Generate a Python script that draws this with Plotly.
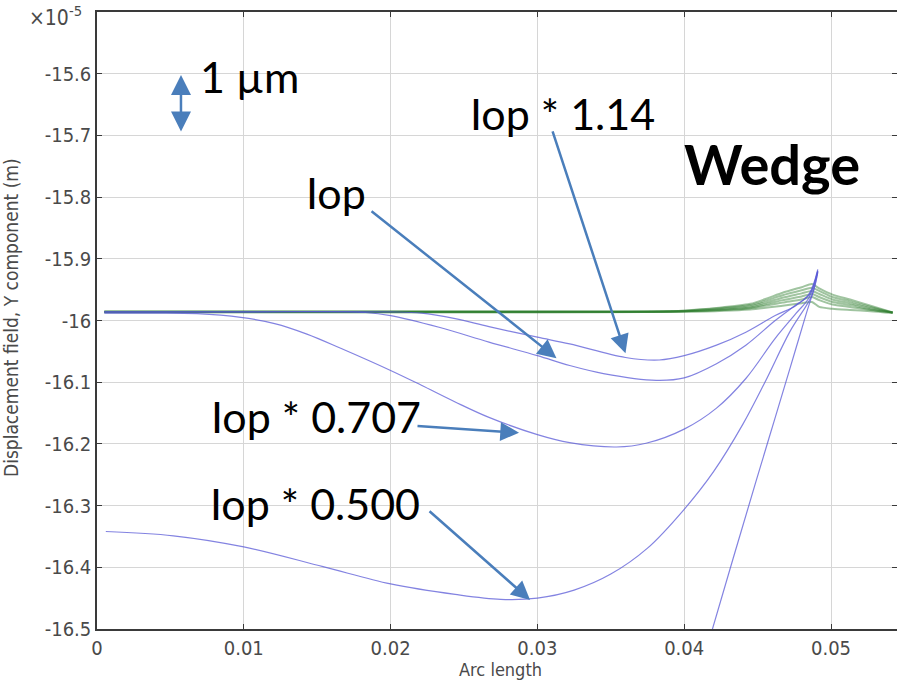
import plotly.graph_objects as go

# ---------------- data (values in units of 1e-5 m) ----------------
x_114 = [0.0005, 0.010, 0.020, 0.0221, 0.0244, 0.0267, 0.0300, 0.0322, 0.0360, 0.0383, 0.0400, 0.0422, 0.0442, 0.0462, 0.0476, 0.0485, 0.0491]
y_114 = [-15.986, -15.986, -15.986, -15.988, -15.997, -16.010, -16.027, -16.038, -16.060, -16.064, -16.057, -16.040, -16.019, -15.992, -15.976, -15.957, -15.917]

x_iop = [0.0005, 0.010, 0.0183, 0.0200, 0.0233, 0.0267, 0.0300, 0.0322, 0.0345, 0.0381, 0.0400, 0.0422, 0.0442, 0.0462, 0.0476, 0.0485, 0.0491]
y_iop = [-15.986, -15.986, -15.987, -15.992, -16.011, -16.035, -16.057, -16.073, -16.086, -16.097, -16.093, -16.070, -16.040, -16.000, -15.975, -15.959, -15.919]

x_0707 = [0.0005, 0.0040, 0.0068, 0.0098, 0.0121, 0.0143, 0.0166, 0.0200, 0.0221, 0.0244, 0.0267, 0.0300, 0.0322, 0.0354, 0.0374, 0.0400, 0.0422, 0.0442, 0.0462, 0.0476, 0.0485, 0.0491]
y_0707 = [-15.988, -15.988, -15.989, -15.995, -16.005, -16.022, -16.045, -16.081, -16.105, -16.132, -16.157, -16.185, -16.198, -16.205, -16.199, -16.176, -16.142, -16.094, -16.029, -15.989, -15.963, -15.920]

x_0500 = [0.0006, 0.0052, 0.0100, 0.0154, 0.0200, 0.0244, 0.0275, 0.0300, 0.0325, 0.0350, 0.0375, 0.0400, 0.0420, 0.0440, 0.0455, 0.0472, 0.0487, 0.0491]
y_0500 = [-16.342, -16.349, -16.367, -16.399, -16.427, -16.444, -16.452, -16.450, -16.437, -16.411, -16.369, -16.306, -16.245, -16.168, -16.100, -16.018, -15.959, -15.921]

x_low = [0.0405, 0.0419, 0.0449, 0.0461, 0.0472, 0.0483, 0.0488, 0.0491]
y_low = [-16.620, -16.502, -16.260, -16.165, -16.078, -15.990, -15.952, -15.922]

x_green = [0.0005, 0.030, 0.040, 0.0445, 0.0467, 0.0480, 0.0487, 0.0492, 0.0501, 0.0513, 0.0527, 0.0542]
y_green_1 = [-15.986, -15.986, -15.984, -15.973, -15.955, -15.946, -15.941, -15.948, -15.958, -15.966, -15.976, -15.987]
y_green_2 = [-15.986, -15.986, -15.984, -15.975, -15.959, -15.951, -15.947, -15.952, -15.962, -15.969, -15.978, -15.987]
y_green_3 = [-15.986, -15.986, -15.985, -15.977, -15.963, -15.956, -15.952, -15.957, -15.966, -15.972, -15.980, -15.987]
y_green_4 = [-15.986, -15.986, -15.985, -15.979, -15.967, -15.961, -15.957, -15.962, -15.970, -15.975, -15.982, -15.987]
y_green_5 = [-15.986, -15.986, -15.985, -15.980, -15.971, -15.966, -15.962, -15.967, -15.974, -15.978, -15.983, -15.987]
y_green_6 = [-15.987, -15.987, -15.986, -15.982, -15.976, -15.972, -15.970, -15.978, -15.981, -15.983, -15.985, -15.988]

x_tick_vals = [0, 0.01, 0.02, 0.03, 0.04, 0.05]
x_tick_text = ["0", "0.01", "0.02", "0.03", "0.04", "0.05"]
y_tick_vals = [-16.5, -16.4, -16.3, -16.2, -16.1, -16.0, -15.9, -15.8, -15.7, -15.6]
y_tick_text = ["-16.5", "-16.4", "-16.3", "-16.2", "-16.1", "-16", "-15.9", "-15.8", "-15.7", "-15.6"]

# ---------------- figure ----------------
fig = go.Figure()

GREEN = "rgba(45,125,45,0.45)"
BLUE = "rgba(90,90,215,0.75)"

for yg in [y_green_1, y_green_2, y_green_3, y_green_4, y_green_5, y_green_6]:
    fig.add_trace(go.Scatter(x=x_green, y=yg, mode="lines",
                             line=dict(color=GREEN, width=2, shape="spline", smoothing=0.6),
                             hoverinfo="skip", showlegend=False))

for xb, yb in [(x_114, y_114), (x_iop, y_iop), (x_0707, y_0707), (x_0500, y_0500), (x_low, y_low)]:
    fig.add_trace(go.Scatter(x=xb, y=yb, mode="lines",
                             line=dict(color=BLUE, width=1.2, shape="spline", smoothing=1.0),
                             hoverinfo="skip", showlegend=False))

ARROW = "#4a7ebb"
LABEL_FONT = dict(family="Lato, Open Sans, sans-serif", size=43, color="black")

arrows = [
    # head (x, y) ; tail (ax, ay)
    dict(x=0.0360, y=-16.053, ax=0.0310, ay=-15.691),
    dict(x=0.0313, y=-16.061, ax=0.0186, ay=-15.821),
    dict(x=0.02875, y=-16.182, ax=0.02173, ay=-16.171),
    dict(x=0.0295, y=-16.453, ax=0.02255, ay=-16.307),
]
ann = []
for a in arrows:
    ann.append(dict(x=a["x"], y=a["y"], ax=a["ax"], ay=a["ay"], xref="x", yref="y",
                    axref="x", ayref="y", text="", showarrow=True, arrowhead=2,
                    arrowsize=1.5, arrowwidth=2.5, arrowcolor=ARROW, standoff=0))
# 1 µm double arrow
ann.append(dict(x=0.00572, y=-15.602, ax=0.00572, ay=-15.696, xref="x", yref="y",
                axref="x", ayref="y", text="", showarrow=True, arrowhead=2,
                startarrowhead=2, arrowside="end+start", arrowsize=1.6,
                startarrowsize=1.6, arrowwidth=2.5, arrowcolor=ARROW, standoff=0,
                startstandoff=0))

texts = [
    ("1 µm", 0.0104, -15.605),
    ("Iop * 1.14", 0.03168, -15.664),
    ("Iop", 0.01628, -15.793),
    ("Iop * 0.707", 0.01492, -16.155),
    ("Iop * 0.500", 0.01485, -16.296),
]
for t, tx, ty in texts:
    ann.append(dict(x=tx, y=ty, xref="x", yref="y", text=t, showarrow=False,
                    font=LABEL_FONT, xanchor="center", yanchor="middle"))
ann.append(dict(x=0.046, y=-15.745, xref="x", yref="y", text="<b>Wedge</b>", showarrow=False,
                font=dict(family="Lato, Open Sans, sans-serif", size=56, color="black"),
                xanchor="center", yanchor="middle"))

DJ = "DejaVu Sans Condensed, DejaVu Sans, sans-serif"
TICK_FONT = dict(family=DJ, size=20, color="#4a4a4a")
ann.append(dict(x=-0.0875, y=0.9935, xref="paper", yref="paper", text="×10<sup>-5</sup>",
                showarrow=False, xanchor="left", yanchor="middle",
                font=dict(family=DJ, size=21, color="#4a4a4a")))
ann.append(dict(x=-0.1075, y=0.504, xref="paper", yref="paper",
                text="Displacement field, Y component (m)", textangle=-90,
                showarrow=False, xanchor="center", yanchor="middle",
                font=dict(family=DJ, size=19, color="#4a4a4a")))
ann.append(dict(x=0.504, y=-0.066, xref="paper", yref="paper", text="Arc length",
                showarrow=False, xanchor="center", yanchor="middle",
                font=dict(family=DJ, size=18, color="#4a4a4a")))

fig.update_layout(
    width=897, height=680,
    margin=dict(l=97, r=0, t=12, b=51, autoexpand=False),
    paper_bgcolor="white", plot_bgcolor="white",
    annotations=ann,
    xaxis=dict(range=[0, 800 / 14680], tickvals=x_tick_vals, ticktext=x_tick_text,
               showgrid=True, gridcolor="#d6d6d6", gridwidth=1, zeroline=False,
               showline=True, linecolor="#3a3a3a", linewidth=1.5, mirror="ticks",
               ticks="inside", ticklen=5, tickcolor="#3a3a3a", tickfont=TICK_FONT,
               automargin=False),
    yaxis=dict(range=[-16.5, -15.5], tickvals=y_tick_vals, ticktext=y_tick_text,
               showgrid=True, gridcolor="#d6d6d6", gridwidth=1, zeroline=False,
               showline=True, linecolor="#3a3a3a", linewidth=1.5, mirror="ticks",
               ticks="inside", ticklen=5, tickcolor="#3a3a3a", tickfont=TICK_FONT,
               automargin=False),
)

fig.write_html("out.html", config={"displayModeBar": False},
               post_script="document.body.style.margin='0';document.body.style.overflow='hidden';")
